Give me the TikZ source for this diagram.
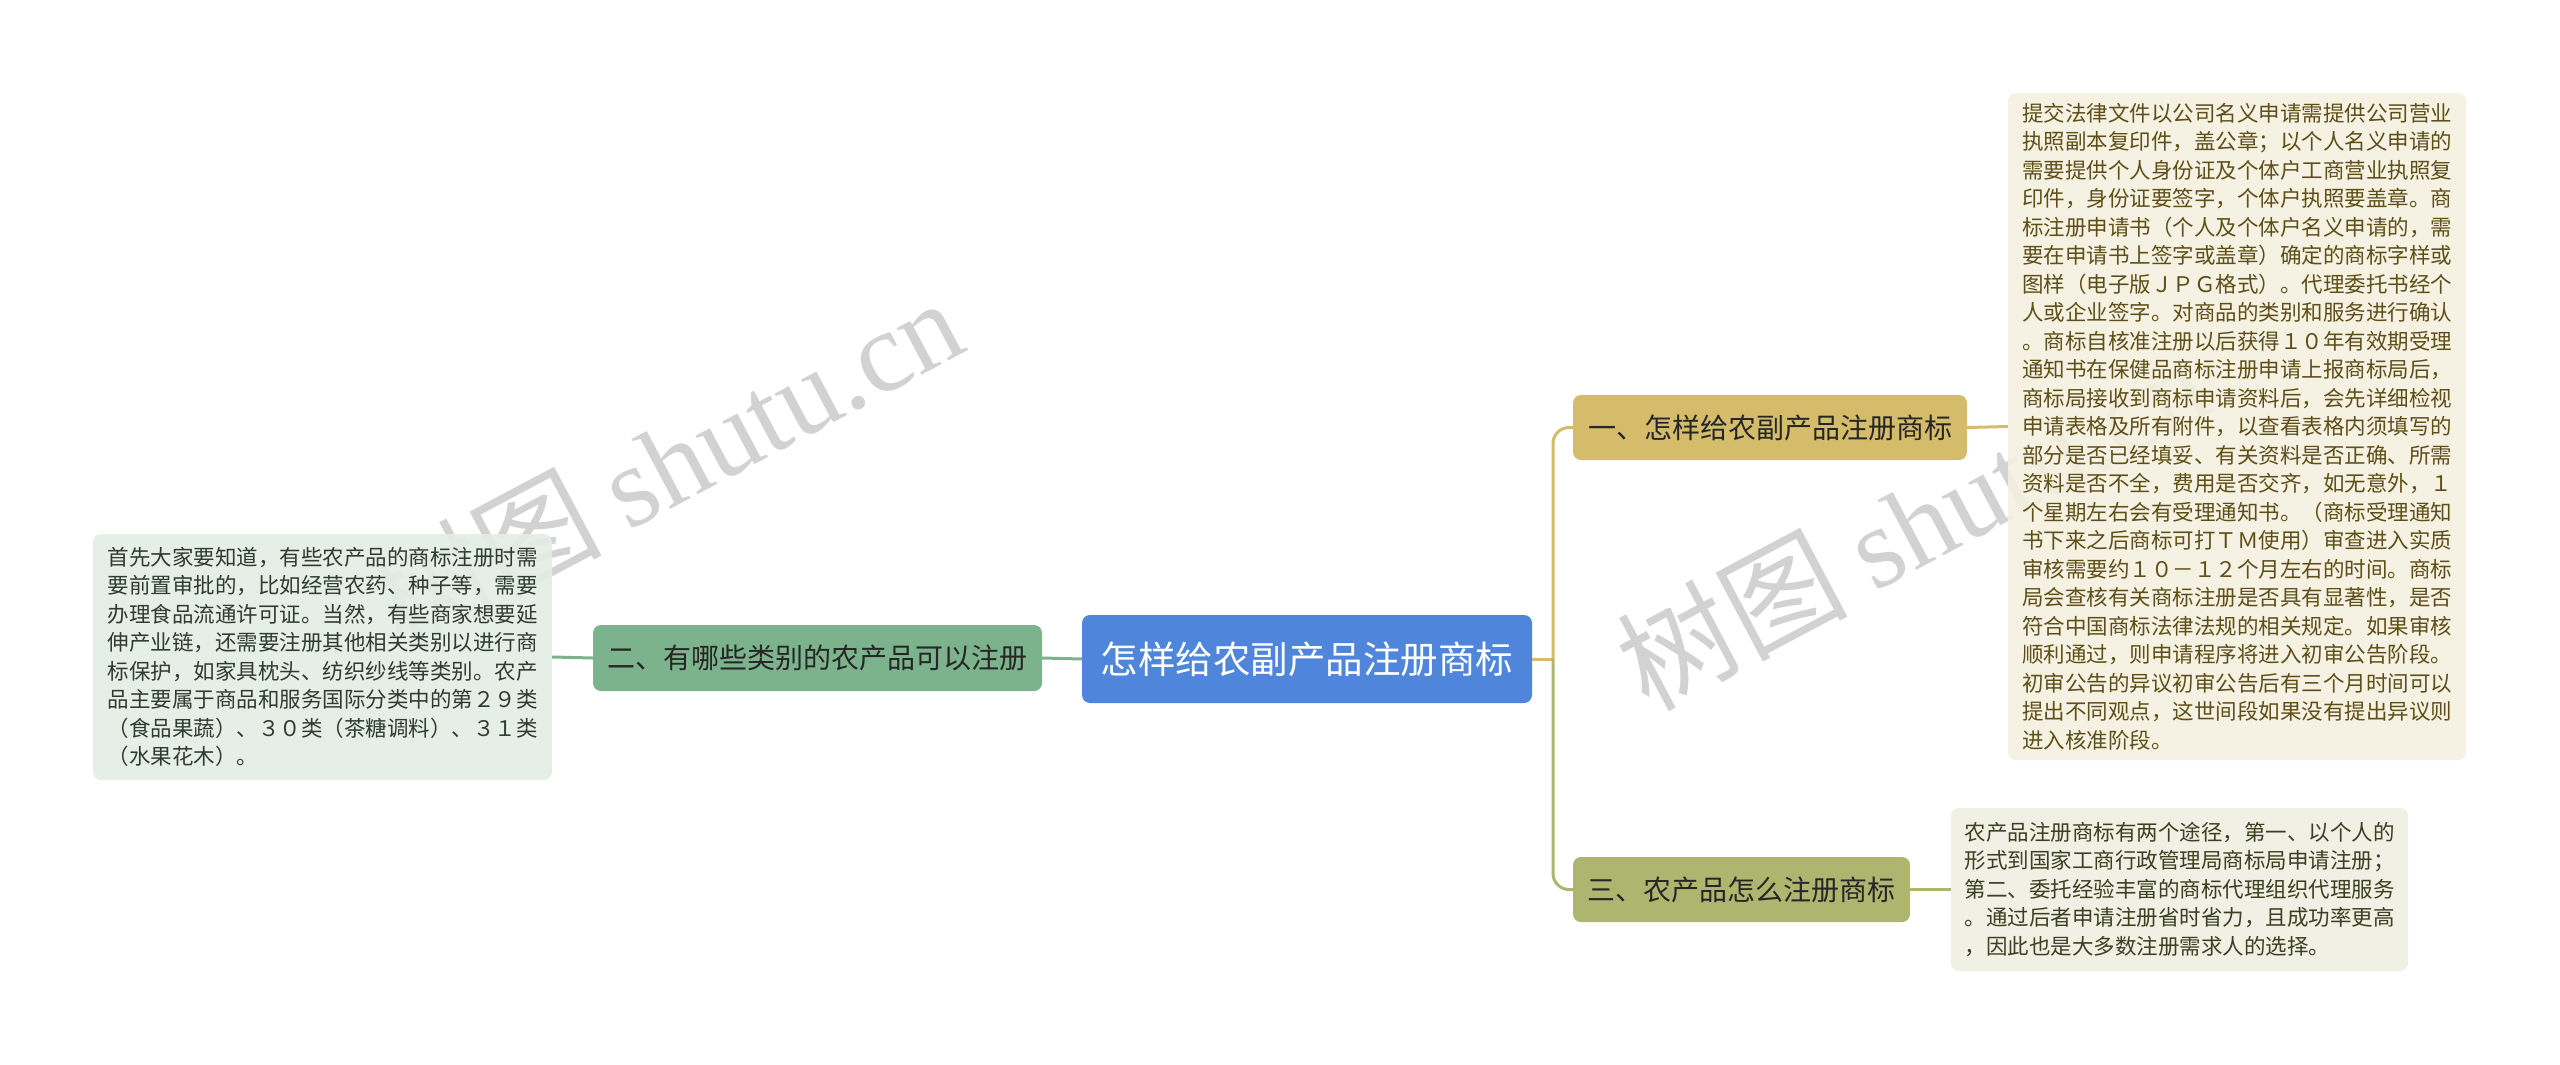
\documentclass[tikz,border=0pt]{standalone}
\usepackage{fontspec}
\setmainfont{Noto Sans CJK SC}
\newfontfamily\wmlatin{Liberation Serif}
\definecolor{cblue}{HTML}{4F86DB}
\definecolor{cgreen}{HTML}{7CB38C}
\definecolor{cgold}{HTML}{D4BC6A}
\definecolor{colive}{HTML}{AEB56E}
\definecolor{boxgreen}{HTML}{E4EDE6}
\definecolor{boxgold}{HTML}{F5F1E0}
\definecolor{boxolive}{HTML}{EFEFE3}
\definecolor{txtgreen}{HTML}{2E3B30}
\definecolor{txtgold}{HTML}{5E4E17}
\definecolor{txtolive}{HTML}{3B4020}
\definecolor{wm}{HTML}{D2D2D2}
\tikzset{
  topicbox/.style={rounded corners=8pt, inner sep=0pt, font=\fontsize{28}{34}\selectfont, text=black!85},
  notebox/.style={rounded corners=8pt, inner sep=0pt, align=left, font=\fontsize{21.5}{28.5}\selectfont, fill opacity=0.9, text opacity=1},
  conn/.style={line width=3pt},
  wmark/.style={text=wm, rotate=28, font=\fontsize{115}{125}\selectfont}
}
\begin{document}
\begin{tikzpicture}[x=1pt,y=-1pt]
\useasboundingbox[fill=white] (0,0) rectangle (2560,1065);

% watermarks
\node[wmark] (wm1) at (666,462) {树图 {\wmlatin shutu.cn}};
\node[wmark] (wm2) at (1912,523) {树图 {\wmlatin shutu.cn}};

% nodes
\node[topicbox, fill=cblue, text=white, minimum width=450pt, minimum height=88pt, font=\fontsize{37.5}{44}\selectfont] (c) at (1307,659) {怎样给农副产品注册商标};
\node[topicbox, fill=cgreen, minimum width=449pt, minimum height=66pt] (n2) at (817.5,658) {二、有哪些类别的农产品可以注册};
\node[topicbox, fill=cgold, minimum width=394pt, minimum height=65pt] (n1) at (1770,427.5) {一、怎样给农副产品注册商标};
\node[topicbox, fill=colive, minimum width=337pt, minimum height=65pt] (n3) at (1741.5,889.5) {三、农产品怎么注册商标};

\node[notebox, fill=boxgreen, text=txtgreen, minimum width=459pt, minimum height=246pt] (t2) at (322.5,657) {首先大家要知道，有些农产品的商标注册时需\\要前置审批的，比如经营农药、种子等，需要\\办理食品流通许可证。当然，有些商家想要延\\伸产业链，还需要注册其他相关类别以进行商\\标保护，如家具枕头、纺织纱线等类别。农产\\品主要属于商品和服务国际分类中的第２９类\\（食品果蔬）、３０类（茶糖调料）、３１类\\（水果花木）。};

\node[notebox, fill=boxgold, text=txtgold, minimum width=458pt, minimum height=667pt] (t1) at (2237,426.5) {提交法律文件以公司名义申请需提供公司营业\\执照副本复印件，盖公章；以个人名义申请的\\需要提供个人身份证及个体户工商营业执照复\\印件，身份证要签字，个体户执照要盖章。商\\标注册申请书（个人及个体户名义申请的，需\\要在申请书上签字或盖章）确定的商标字样或\\图样（电子版ＪＰＧ格式）。代理委托书经个\\人或企业签字。对商品的类别和服务进行确认\\。商标自核准注册以后获得１０年有效期受理\\通知书在保健品商标注册申请上报商标局后，\\商标局接收到商标申请资料后，会先详细检视\\申请表格及所有附件，以查看表格内须填写的\\部分是否已经填妥、有关资料是否正确、所需\\资料是否不全，费用是否交齐，如无意外，１\\个星期左右会有受理通知书。（商标受理通知\\书下来之后商标可打ＴＭ使用）审查进入实质\\审核需要约１０－１２个月左右的时间。商标\\局会查核有关商标注册是否具有显著性，是否\\符合中国商标法律法规的相关规定。如果审核\\顺利通过，则申请程序将进入初审公告阶段。\\初审公告的异议初审公告后有三个月时间可以\\提出不同观点，这世间段如果没有提出异议则\\进入核准阶段。};

\node[notebox, fill=boxolive, text=txtolive, minimum width=457pt, minimum height=163pt] (t3) at (2179.5,889.5) {农产品注册商标有两个途径，第一、以个人的\\形式到国家工商行政管理局商标局申请注册；\\第二、委托经验丰富的商标代理组织代理服务\\。通过后者申请注册省时省力，且成功率更高\\，因此也是大多数注册需求人的选择。};

% connectors
\coordinate (bus) at (1553,659);
\draw[conn, cgreen] (c.west) -- (n2.east);
\draw[conn, cgreen] (n2.west) -- (t2.east);
\draw[conn, cgold] (c.east) -- (bus);
\draw[conn, cgold, rounded corners=16pt] (bus) |- (n1.west);
\draw[conn, colive, rounded corners=16pt] (bus) |- (n3.west);
\draw[conn, cgold] (n1.east) -- (t1.west);
\draw[conn, colive] (n3.east) -- (t3.west);
\end{tikzpicture}
\end{document}
